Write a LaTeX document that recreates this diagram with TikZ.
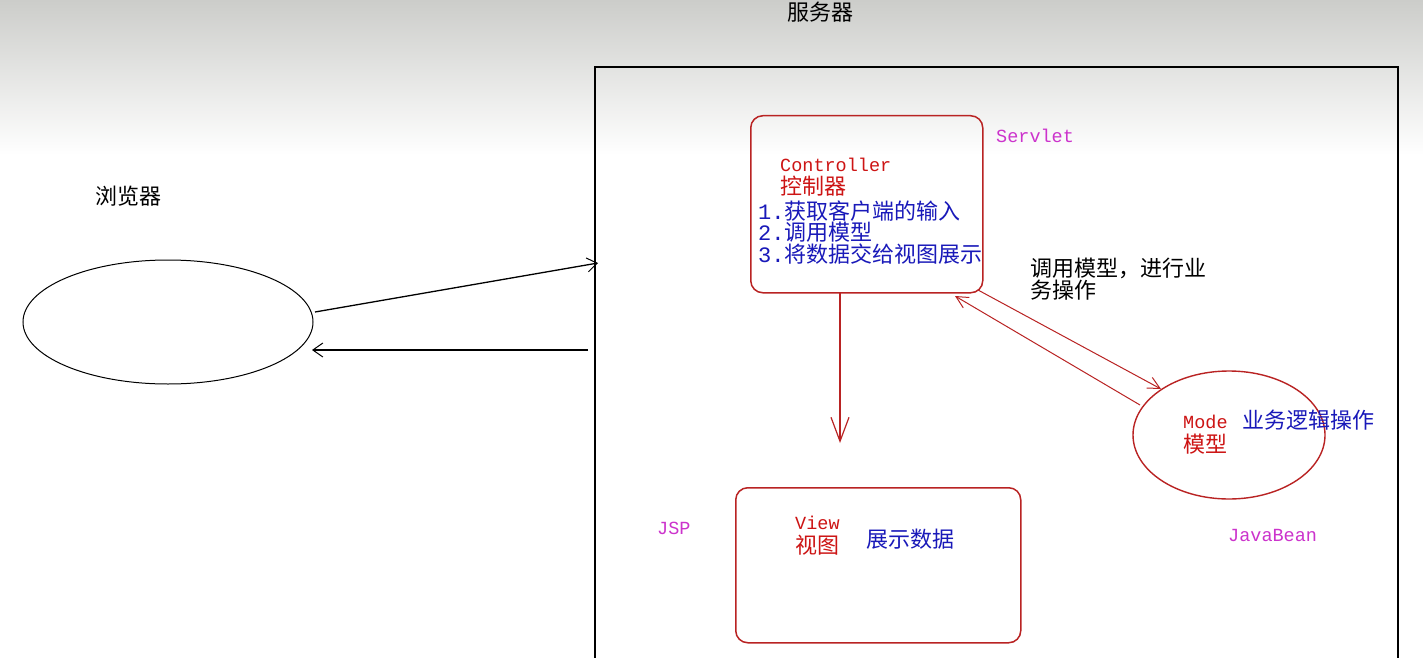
\documentclass[tikz,border=0pt]{standalone}
\usepackage{fontspec}
\newfontfamily\cjk{Noto Sans CJK SC}
\newfontfamily\monof{Liberation Mono}
\usetikzlibrary{arrows.meta,shapes.geometric}
\definecolor{boxred}{RGB}{185,35,35}
\definecolor{txtred}{RGB}{205,20,20}
\definecolor{txtblue}{RGB}{25,25,185}
\definecolor{mag}{RGB}{204,51,204}
\definecolor{bggray}{RGB}{204,205,202}
\tikzset{
  cjktxt/.style={anchor=west,inner sep=0pt,font=\cjk\fontsize{22}{23}\selectfont},
  monotxt/.style={anchor=west,inner sep=0pt,font=\monof\fontsize{18.5}{20}\selectfont},
  redbox/.style={draw=boxred,line width=1.5pt,rounded corners=12pt,rectangle,inner sep=0pt},
  redell/.style={draw=boxred,line width=1.4pt,ellipse,inner sep=0pt},
  blackarrow/.style={draw=black,line width=1.3pt,-{Straight Barb[length=10pt,width=14pt,line width=1pt]}},
  redarrow/.style={draw=boxred,line width=1.1pt,-{Straight Barb[length=24pt,width=18pt,line width=1.2pt]}},
  redthin/.style={draw=boxred,line width=1pt,-{Straight Barb[length=12pt,width=12pt,line width=1pt]}}
}
\begin{document}
\begin{tikzpicture}[x=1pt,y=-1pt]
\useasboundingbox (0,0) rectangle (1423,658);
\clip (0,0) rectangle (1423,658);
\fill[white] (0,0) rectangle (1423,658);
\shade[top color=bggray,bottom color=white] (0,0) rectangle (1423,155);
% title
\node[cjktxt] (title) at (787,12) {服务器};
% server box
\node[draw=black,line width=2pt,rectangle,minimum width=803pt,minimum height=640pt,anchor=north west,inner sep=0pt] (server) at (594,66) {};
% browser
\node[cjktxt] (browserlbl) at (95,196) {浏览器};
\node[draw=black,line width=1pt,ellipse,minimum width=290pt,minimum height=124pt,inner sep=0pt] (browser) at (168,322) {};
\coordinate (bOut) at (315,312);
\coordinate (sIn) at (598,263);
\coordinate (sOut) at (588,350);
\coordinate (bIn) at (312,350);
\draw[blackarrow] (bOut) -- (sIn);
\draw[blackarrow] (sOut) -- (bIn);
% controller
\node[redbox,minimum width=232pt,minimum height=177pt,anchor=north west] (ctrl) at (750,115) {};
\node[monotxt,text=mag] (servlet) at (996,136) {Servlet};
\node[monotxt,text=txtred] (ctrlname) at (780,165) {Controller};
\node[cjktxt,text=txtred] (ctrlcn) at (780,186) {控制器};
\node[cjktxt,text=txtblue] (c1) at (758,211) {{\monof 1.}获取客户端的输入};
\node[cjktxt,text=txtblue] (c2) at (758,232) {{\monof 2.}调用模型};
\node[cjktxt,text=txtblue] (c3) at (758,254) {{\monof 3.}将数据交给视图展示};
% call text
\node[cjktxt] (call1) at (1030,268) {调用模型，进行业};
\node[cjktxt] (call2) at (1030,290) {务操作};
% model
\node[redell,minimum width=192pt,minimum height=128pt] (model) at (1229,435) {};
\node[monotxt,text=txtred] (modename) at (1183,422) {Mode};
\node[cjktxt,text=txtred] (modecn) at (1183,444) {模型};
\node[cjktxt,text=txtblue] (bizlbl) at (1242,420) {业务逻辑操作};
\node[monotxt,text=mag] (javabean) at (1228,535) {JavaBean};
\coordinate (cA) at (978,290);
\coordinate (mA) at (1161,389);
\coordinate (mB) at (1140,405);
\coordinate (cB) at (955,296);
\draw[redthin] (cA) -- (mA);
\draw[redthin] (mB) -- (cB);
% view
\node[redbox,minimum width=285pt,minimum height=155pt,anchor=north west] (view) at (735,487) {};
\node[monotxt,text=mag] (jsp) at (657,528) {JSP};
\node[monotxt,text=txtred] (viewname) at (795,523) {View};
\node[cjktxt,text=txtred] (viewcn) at (795,545) {视图};
\node[cjktxt,text=txtblue] (showlbl) at (866,539) {展示数据};
\coordinate (cDown) at (840,292);
\coordinate (vUp) at (840,443);
\draw[redarrow] (cDown) -- (vUp);
\end{tikzpicture}
\end{document}
